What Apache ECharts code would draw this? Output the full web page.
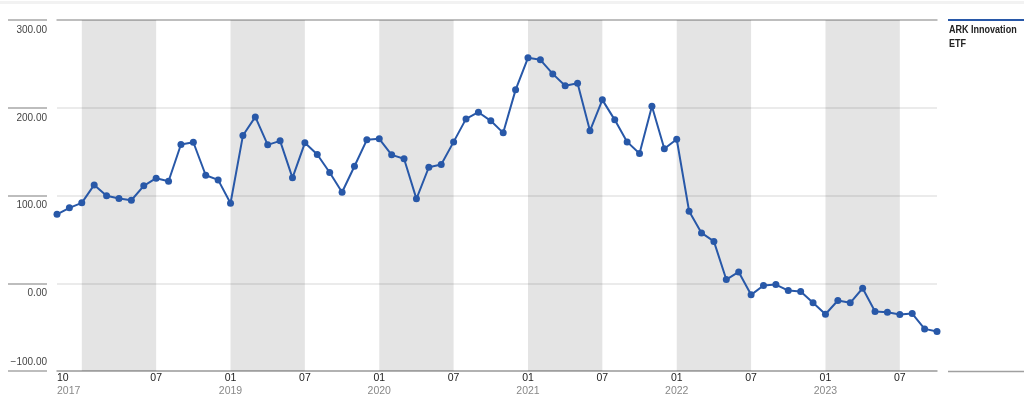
<!DOCTYPE html>
<html>
<head>
<meta charset="utf-8">
<script src="https://cdn.jsdelivr.net/npm/echarts@6/dist/echarts.min.js"></script>
<style>
html,body{margin:0;padding:0;background:#fff;}
#chart{width:1024px;height:405px;}
</style>
</head>
<body>
<div id="chart"></div>
<script>
// Month-end dates, 2017-10 through 2023-09
const months = [];
for (let y = 2017, m = 10; !(y === 2023 && m === 10); ) {
  months.push(y + '-' + String(m).padStart(2, '0'));
  m++; if (m > 12) { m = 1; y++; }
}
const seriesName = 'ARK Innovation ETF';
const values = [
  78.6, 85.9, 91.6, 112.1, 99.6, 96.5, 94.6, 111.0, 119.7, 116.2,
  158.1, 160.7, 123.1, 117.8, 91.2, 168.3, 189.6, 157.7, 162.3, 120.1,
  160.0, 146.7, 126.2, 103.7, 133.3, 163.4, 164.6, 146.3, 141.8, 96.2,
  132.2, 135.3, 161.1, 187.3, 194.9, 185.1, 171.4, 220.4, 256.9, 254.6,
  238.6, 225.0, 227.9, 173.7, 209.0, 186.2, 161.1, 147.8, 201.7, 153.2,
  164.1, 82.1, 57.4, 47.7, 4.2, 12.9, -13.2, -2.6, -1.5, -8.3,
  -9.5, -22.3, -35.3, -19.7, -22.3, -5.7, -32.3, -33.0, -35.7, -34.5,
  -52.0, -55.0
];
const yTicks = [-100, 0, 100, 200, 300];
// Shaded half-years (Jan–Jun), given as month-end categories
const bands = [
  ['2017-12', '2018-06'], ['2018-12', '2019-06'], ['2019-12', '2020-06'],
  ['2020-12', '2021-06'], ['2021-12', '2022-06'], ['2022-12', '2023-06']
];

const FONT = '"Liberation Sans", Arial, sans-serif';
const BLUE = '#2858a8';

function xLabel(cat, idx) {
  const [y, m] = cat.split('-').map(Number);
  if (idx === 0) return '{m|' + String(m).padStart(2, '0') + '}\n{y|' + y + '}';
  if (m === 6) return '{m|07}';
  if (m === 12) return '{m|01}\n{y|' + (y + 1) + '}';
  return '';
}

const chart = echarts.init(document.getElementById('chart'));
chart.setOption({
  animation: false,
  textStyle: { fontFamily: FONT },
  grid: { left: 57, right: 87, top: 20, bottom: 34, containLabel: false },
  xAxis: [{
    type: 'category',
    data: months,
    boundaryGap: false,
    axisLine: { show: true, onZero: false, lineStyle: { color: '#a0a0a0', width: 1.5 } },
    axisTick: { show: false },
    splitLine: { show: false },
    axisLabel: {
      margin: 1,
      interval: (idx, cat) => xLabel(cat, idx) !== '',
      formatter: (cat, idx) => xLabel(cat, idx),
      alignMinLabel: 'left',
      showMinLabel: true,
      rich: {
        m: { fontFamily: FONT, fontSize: 10.5, color: '#222', fontWeight: 'normal', lineHeight: 13 },
        y: { fontFamily: FONT, fontSize: 10.5, color: '#888', lineHeight: 13 }
      }
    }
  }, {
    type: 'category',
    data: months,
    boundaryGap: false,
    position: 'top',
    axisLine: { show: true, onZero: false, lineStyle: { color: '#b0b0b0', width: 1.5 } },
    axisTick: { show: false },
    axisLabel: { show: false },
    splitLine: { show: false }
  }],
  yAxis: {
    type: 'value',
    min: yTicks[0], max: yTicks[yTicks.length - 1], interval: 100,
    offset: 10,
    axisLine: { show: false },
    axisTick: { show: true, length: 39, lineStyle: { color: '#a8a8a8', width: 1.5 } },
    splitLine: { show: true, lineStyle: { color: '#e4e4e4', width: 1.5 } },
    axisLabel: {
      margin: 0,
      align: 'right',
      verticalAlign: 'middle',
      formatter: v => v < 0
        ? '{dn|−' + Math.abs(v).toFixed(2) + '}'
        : '{up|' + v.toFixed(2) + '}',
      rich: {
        up: { fontFamily: FONT, fontSize: 10, color: '#444', padding: [20, 0, 0, 0] },
        dn: { fontFamily: FONT, fontSize: 10, color: '#444', padding: [0, 0, 18, 0] }
      }
    }
  },
  series: [{
    name: seriesName,
    type: 'line',
    xAxisIndex: 0,
    data: values,
    symbol: 'circle',
    symbolSize: 7,
    lineStyle: { color: BLUE, width: 2 },
    itemStyle: { color: BLUE },
    markArea: {
      silent: true,
      itemStyle: { color: 'rgba(0,0,0,0.105)' },
      data: bands.map(b => [{ xAxis: b[0] }, { xAxis: b[1] }])
    },
    z: 3
  }],
  graphic: [
    { type: 'rect', shape: { x: 0, y: 1, width: 1024, height: 3 }, style: { fill: '#f2f2f2' }, silent: true },
    { type: 'line', shape: { x1: 948, y1: 20, x2: 1024, y2: 20 }, style: { stroke: BLUE, lineWidth: 2 } },
    { type: 'text', x: 949, y: 23, scaleX: 0.82, style: { text: 'ARK Innovation\nETF', fontFamily: FONT, fontSize: 11, fontWeight: 'bold', fill: '#222', lineHeight: 14 } },
    { type: 'line', shape: { x1: 948, y1: 371.5, x2: 1024, y2: 371.5 }, style: { stroke: '#a0a0a0', lineWidth: 1.5 } }
  ]
});
</script>
</body>
</html>
